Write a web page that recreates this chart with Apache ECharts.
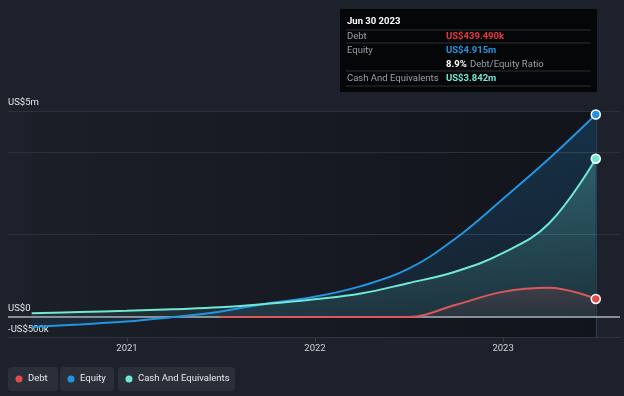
<!DOCTYPE html>
<html>
<head>
<meta charset="utf-8">
<script src="https://cdn.jsdelivr.net/npm/echarts@6/dist/echarts.min.js"></script>
<style>
  html, body { margin: 0; padding: 0; background: #1d212b; }
  #chart { width: 624px; height: 396px; }
</style>
</head>
<body>
<div id="chart"></div>
<script>
// quarter ends, values in US$ millions
var dates = ['2020-06-30', '2020-09-30', '2020-12-31', '2021-03-31', '2021-06-30', '2021-09-30',
             '2021-12-31', '2022-03-31', '2022-06-30', '2022-09-30', '2022-12-31', '2023-03-31', '2023-06-30'];
var equity = [-0.24, -0.18, -0.11, 0.0, 0.13, 0.33, 0.49, 0.75, 1.16, 1.90, 2.86, 3.84, 4.915];
var cash   = [0.09, 0.12, 0.15, 0.19, 0.235, 0.32, 0.43, 0.57, 0.82, 1.10, 1.55, 2.27, 3.842];
// debt only reported from mid 2021
var debt   = [null, null, null, null, 0, 0, 0, 0, 0, 0.29, 0.61, 0.71, 0.439];
var yTicks = { '5': 'US$5m', '0': 'US$0', '-0.5': '-US$500k' };
var gridValues = [5, 4, 2];

var tipDate = 'Jun 30 2023';
var tipDebt = 'US$439.490k';
var tipEquity = 'US$4.915m';
var tipRatio = '8.9%';
var tipCash = 'US$3.842m';

var RED = '#e64b4b', BLUE = '#2394df', TEAL = '#71e7d6';
var FONT = 'Roboto';
var FS = 9.5;

function pairs(arr) {
  var out = [];
  for (var i = 0; i < dates.length; i++) {
    if (arr[i] !== null) out.push([dates[i], arr[i]]);
  }
  return out;
}

function makeSeries(name, arr, color, lineColor, areaTop, areaBottom) {
  var d = pairs(arr);
  var last = d.length - 1;
  return {
    name: name,
    type: 'line',
    data: d,
    smooth: 0.4,
    showSymbol: true,
    symbol: 'circle',
    symbolSize: function (v, p) { return p.dataIndex === last ? 9 : 0; },
    itemStyle: { color: color, borderColor: '#ffffff', borderWidth: 1.5 },
    lineStyle: { color: lineColor, width: 2 },
    areaStyle: {
      color: new echarts.graphic.LinearGradient(0, 0, 0, 1, [
        { offset: 0, color: areaTop },
        { offset: 1, color: areaBottom }
      ])
    },
    z: 3
  };
}

var chart = echarts.init(document.getElementById('chart'));

var series = [
  {
    name: 'bg',
    type: 'line',
    data: [],
    silent: true,
    z: 1,
    markArea: {
      silent: true,
      z: 0,
      itemStyle: {
        color: new echarts.graphic.LinearGradient(0, 0, 1, 0, [
          { offset: 0, color: 'rgba(8,10,14,0.1)' },
          { offset: 1, color: 'rgba(8,10,14,0.55)' }
        ])
      },
      data: [[{ xAxis: dates[0], yAxis: -0.5 }, { xAxis: dates[dates.length - 1], yAxis: 5 }]]
    },
    markLine: {
      silent: true,
      z: 1,
      symbol: 'none',
      label: { show: false },
      lineStyle: { color: '#2b303b', width: 1, type: 'solid' },
      data: gridValues.map(function (v) { return { yAxis: v }; })
        .concat([{ xAxis: dates[dates.length - 1], lineStyle: { color: 'rgba(50,90,130,0.55)', width: 1 } }])
    }
  },
  {
    name: 'zero',
    type: 'line',
    data: [],
    silent: true,
    z: 2,
    markLine: {
      silent: true,
      z: 2,
      symbol: 'none',
      label: { show: false },
      lineStyle: { color: '#8a8d93', width: 2, type: 'solid' },
      data: [{ yAxis: 0 }]
    }
  },
  makeSeries('Equity', equity, BLUE, BLUE, 'rgba(35,148,223,0.32)', 'rgba(35,148,223,0.12)'),
  makeSeries('Cash And Equivalents', cash, TEAL, TEAL, 'rgba(113,231,214,0.38)', 'rgba(113,231,214,0.12)'),
  makeSeries('Debt', debt, RED, '#d9585c', 'rgba(230,75,75,0.22)', 'rgba(230,75,75,0.08)')
];

// tooltip-like box and legend chips drawn as graphics
var tipX = 340, tipY = 9;
var labelStyle = { fill: '#9aa0a8', font: FS + 'px ' + FONT };
function sep(y) {
  return { type: 'line', shape: { x1: tipX + 6, y1: y, x2: tipX + 251, y2: y }, style: { stroke: '#2a2e36', lineWidth: 1 } };
}
var graphics = [
  { type: 'rect', shape: { x: tipX, y: tipY, width: 257, height: 83 }, style: { fill: '#050608' } },
  { type: 'text', x: tipX + 7, y: tipY + 8, style: { text: tipDate, fill: '#ffffff', font: 'bold ' + FS + 'px ' + FONT } },
  sep(tipY + 21),
  { type: 'text', x: tipX + 7, y: tipY + 23, style: Object.assign({ text: 'Debt' }, labelStyle) },
  { type: 'text', x: tipX + 106, y: tipY + 23, style: { text: tipDebt, fill: '#e8373f', font: 'bold ' + FS + 'px ' + FONT } },
  sep(tipY + 34),
  { type: 'text', x: tipX + 7, y: tipY + 37, style: Object.assign({ text: 'Equity' }, labelStyle) },
  { type: 'text', x: tipX + 106, y: tipY + 37, style: { text: tipEquity, fill: '#2394df', font: 'bold ' + FS + 'px ' + FONT } },
  {
    type: 'text', x: tipX + 106, y: tipY + 50,
    style: {
      text: '{b|' + tipRatio + '} {g|Debt/Equity Ratio}',
      rich: {
        b: { fill: '#ffffff', font: 'bold ' + FS + 'px ' + FONT },
        g: { fill: '#9aa0a8', font: FS + 'px ' + FONT }
      }
    }
  },
  sep(tipY + 62),
  { type: 'text', x: tipX + 7, y: tipY + 65, style: Object.assign({ text: 'Cash And Equivalents' }, labelStyle) },
  { type: 'text', x: tipX + 106, y: tipY + 65, style: { text: tipCash, fill: '#71e7d6', font: 'bold ' + FS + 'px ' + FONT } },
  sep(tipY + 77)
];

var legendItems = [
  { name: 'Debt', color: RED, x: 8, w: 50 },
  { name: 'Equity', color: BLUE, x: 60, w: 54 },
  { name: 'Cash And Equivalents', color: TEAL, x: 118, w: 117 }
];
legendItems.forEach(function (it) {
  graphics.push({ type: 'rect', shape: { x: it.x, y: 367, width: it.w, height: 24, r: 4 }, style: { fill: '#2a2f3a' } });
  graphics.push({ type: 'circle', shape: { cx: it.x + 11, cy: 379, r: 3.5 }, style: { fill: it.color } });
  graphics.push({ type: 'text', x: it.x + 20, y: 379, style: { text: it.name, fill: '#e6e8eb', font: '9.5px ' + FONT, verticalAlign: 'middle' } });
});

var option = {
  backgroundColor: '#1d212b',
  animation: false,
  textStyle: { fontFamily: FONT },
  grid: { left: 8, right: 4, top: 111, bottom: 58.4 },
  xAxis: {
    type: 'time',
    min: '2020-05-15',
    max: '2023-08-16',
    minInterval: 365 * 24 * 3600 * 1000,
    maxInterval: 366 * 24 * 3600 * 1000,
    axisLine: { onZero: false, lineStyle: { color: '#2f3440', width: 1 } },
    axisTick: { show: true, length: 4, lineStyle: { color: '#3a3f4a' } },
    axisLabel: {
      color: '#d0d3d8', fontSize: FS, margin: 6,
      showMinLabel: false, showMaxLabel: false,
      formatter: function (v) { return String(new Date(v).getFullYear()); }
    },
    splitLine: { show: false }
  },
  yAxis: {
    type: 'value',
    min: -0.5,
    max: 5,
    interval: 0.5,
    axisLine: { show: false },
    axisTick: { show: false },
    splitLine: { show: false },
    axisLabel: {
      inside: true,
      margin: 0,
      color: '#e3e5e8',
      fontSize: FS,
      verticalAlign: 'bottom',
      padding: [0, 0, 3, 0],
      formatter: function (v) { return yTicks[String(v)] || ''; }
    }
  },
  series: series,
  graphic: graphics
};

chart.setOption(option);
</script>
</body>
</html>
